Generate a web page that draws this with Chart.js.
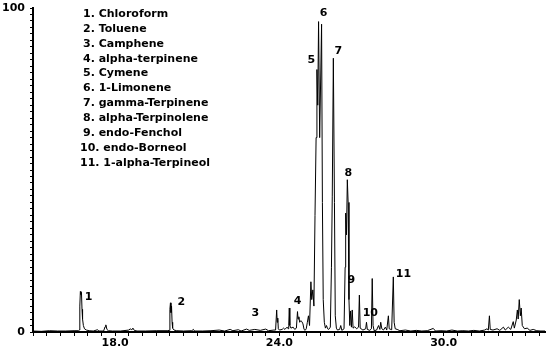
<!DOCTYPE html>
<html>
<head>
<meta charset="utf-8">
<script src="https://cdn.jsdelivr.net/npm/chart.js@4"></script>
<style>
  html, body { margin: 0; padding: 0; background: #fff; }
</style>
</head>
<body>
<canvas id="chart" width="547" height="354"></canvas>
<script>
// retention time (min) and relative abundance (%)
const times = [
  15.00, 15.30, 15.60, 15.90, 16.20, 16.50, 16.66, 16.69, 16.71, 16.73, 16.75, 16.77, 16.79, 16.81, 16.84, 16.88, 16.95,
  17.05, 17.20, 17.36, 17.40, 17.58, 17.63, 17.66, 17.70, 17.75, 17.90, 18.20, 18.50, 18.56, 18.60, 18.65, 18.70, 18.80,
  19.10, 19.50, 19.90, 19.97, 20.00, 20.02, 20.04, 20.06, 20.08, 20.10, 20.15, 20.25, 20.50, 20.80, 20.86, 20.90,
  21.20, 21.50, 21.80, 22.00, 22.20, 22.30, 22.50, 22.60, 22.80, 22.90, 23.10, 23.30, 23.50, 23.60, 23.80, 23.86,
  23.90, 23.92, 23.94, 23.96, 24.00, 24.10, 24.15, 24.20, 24.28, 24.32, 24.34, 24.36, 24.38, 24.42, 24.50, 24.56,
  24.62, 24.66, 24.68, 24.71, 24.74, 24.78, 24.82, 24.86, 24.90, 24.94, 24.98, 25.02, 25.06, 25.10, 25.15, 25.18,
  25.22, 25.26, 25.30, 25.34, 25.37, 25.40, 25.43, 25.47, 25.50, 25.54, 25.57, 25.60, 25.64, 25.68, 25.72, 25.76,
  25.80, 25.86, 25.90, 25.93, 25.97, 26.01, 26.04, 26.08, 26.12, 26.20, 26.24, 26.28, 26.36, 26.40, 26.42, 26.45,
  26.48, 26.51, 26.54, 26.57, 26.60, 26.63, 26.66, 26.69, 26.75, 26.82, 26.89, 26.92, 26.95, 27.05, 27.15, 27.18,
  27.21, 27.30, 27.36, 27.39, 27.42, 27.46, 27.55, 27.62, 27.67, 27.70, 27.74, 27.80, 27.87, 27.92, 27.98, 28.01,
  28.10, 28.16, 28.19, 28.23, 28.30, 28.40, 28.60, 28.80, 29.00, 29.20, 29.40, 29.62, 29.70, 29.90, 30.10, 30.30,
  30.50, 30.70, 30.90, 31.10, 31.30, 31.50, 31.58, 31.63, 31.67, 31.70, 31.80, 31.95, 32.05, 32.18, 32.25, 32.36,
  32.45, 32.54, 32.58, 32.65, 32.69, 32.72, 32.76, 32.80, 32.83, 32.87, 32.95, 33.05, 33.15, 33.27, 33.40, 33.55, 33.70
];
const abundance = [
  0.3, 0.2, 0.4, 0.3, 0.3, 0.4, 0.4, 0.6, 8.0, 12.5, 11.6, 12.2, 7.0, 4.0, 2.0, 1.0, 0.6,
  0.4, 0.3, 0.7, 0.3, 0.3, 1.6, 2.2, 0.8, 0.4, 0.3, 0.3, 0.6, 1.0, 0.6, 1.2, 0.5, 0.3,
  0.3, 0.4, 0.4, 0.5, 7.0, 9.0, 6.0, 8.0, 3.0, 1.2, 0.6, 0.4, 0.3, 0.4, 0.8, 0.3,
  0.3, 0.4, 0.6, 0.3, 0.8, 0.4, 0.7, 0.3, 0.9, 0.5, 0.8, 0.5, 0.9, 0.4, 0.6, 0.6,
  6.8, 3.0, 4.3, 1.0, 0.6, 0.8, 1.2, 0.8, 1.5, 1.0, 2.0, 7.4, 2.0, 1.2, 1.5, 0.8,
  1.2, 6.3, 4.0, 4.7, 3.0, 3.5, 3.2, 2.5, 0.8, 0.5, 1.0, 3.0, 5.0, 2.0, 15.5, 10.0,
  13.0, 8.0, 36.0, 60.0, 81.0, 70.0, 95.8, 60.0, 75.0, 95.0, 40.0, 10.0, 3.0, 1.2, 2.0, 1.0,
  0.8, 1.5, 20.0, 41.7, 84.5, 40.0, 5.0, 1.2, 0.6, 0.8, 2.0, 0.5, 1.0, 20.0, 36.7, 30.0,
  47.0, 40.0, 10.0, 2.0, 6.5, 1.5, 6.8, 1.2, 1.6, 1.0, 1.5, 11.4, 1.2, 0.6, 1.0, 3.0,
  0.8, 0.5, 1.0, 16.5, 2.0, 0.4, 0.6, 2.0, 0.8, 3.0, 1.0, 0.6, 1.5, 0.6, 5.0, 1.0,
  0.7, 17.0, 3.0, 1.0, 0.8, 0.4, 0.6, 0.3, 0.5, 0.3, 0.4, 1.1, 0.3, 0.4, 0.3, 0.6,
  0.3, 0.4, 0.3, 0.5, 0.3, 0.6, 1.0, 0.6, 5.0, 0.8, 0.6, 1.0, 0.5, 1.5, 0.6, 1.5,
  0.8, 3.2, 1.2, 3.7, 6.8, 4.0, 10.0, 5.0, 7.4, 2.0, 1.0, 1.2, 0.5, 0.8, 0.4, 0.3, 0.3
];

const compounds = [
  '1. Chloroform', '2. Toluene', '3. Camphene', '4. alpha-terpinene', '5. Cymene', '6. 1-Limonene',
  '7. gamma-Terpinene', '8. alpha-Terpinolene', '9. endo-Fenchol', '10. endo-Borneol', '11. 1-alpha-Terpineol'
];
// where the peak numbers sit (time, abundance)
const peakNumbers = ['1', '2', '3', '4', '5', '6', '7', '8', '9', '10', '11'];
const peakLabelTimes = [17.03, 20.42, 23.12, 24.66, 25.17, 25.61, 26.15, 26.52, 26.63, 27.32, 28.53];
const peakLabelHeights = [10.8, 9.3, 5.9, 9.6, 84.0, 98.5, 86.7, 49.0, 16.0, 5.9, 17.9];

const xTickLabels = [18, 24, 30];
const yTickLabels = [0, 100];

const FONT = 'DejaVu Sans';

const textPlugin = {
  id: 'chromText',
  afterDatasetsDraw(chart) {
    const { ctx, scales: { x, y } } = chart;
    ctx.save();
    ctx.fillStyle = '#000';
    ctx.font = 'bold 11px "' + FONT + '"';
    ctx.textBaseline = 'middle';

    // peak numbers
    ctx.textAlign = 'center';
    peakNumbers.forEach((n, i) => {
      ctx.fillText(n, x.getPixelForValue(peakLabelTimes[i]), y.getPixelForValue(peakLabelHeights[i]));
    });

    // compound list
    ctx.textAlign = 'left';
    compounds.forEach((c, i) => {
      const left = i >= 9 ? 80 : 83;
      ctx.fillText(c, left, 14 + i * 14.9);
    });
    ctx.restore();
  }
};

new Chart(document.getElementById('chart'), {
  type: 'line',
  data: {
    datasets: [{
      data: times.map((t, i) => ({ x: t, y: abundance[i] })),
      borderColor: '#000',
      borderWidth: 1,
      pointRadius: 0,
      tension: 0,
      fill: false
    }]
  },
  options: {
    responsive: false,
    animation: false,
    layout: { padding: { top: 8, right: 2, left: 0, bottom: 0 } },
    plugins: { legend: { display: false }, tooltip: { enabled: false } },
    scales: {
      x: {
        type: 'linear',
        min: 15,
        max: 33.7,
        afterFit(scale) { scale.height = 22; scale.paddingLeft = 0; scale.paddingRight = 0; },
        grid: { drawOnChartArea: false, tickLength: 4, color: '#000' },
        border: { color: '#000', width: 2 },
        ticks: {
          stepSize: 0.5,
          includeBounds: false,
          autoSkip: false,
          maxRotation: 0,
          padding: 1,
          color: '#000',
          font: { family: FONT, size: 11, weight: 'bold' },
          callback: v => xTickLabels.includes(v) ? v.toFixed(1) : ''
        }
      },
      y: {
        min: 0,
        max: 100,
        afterFit(scale) { scale.width = 33; scale.paddingTop = 0; scale.paddingBottom = 0; },
        grid: { drawOnChartArea: false, tickLength: 3, color: '#000' },
        border: { color: '#000', width: 2 },
        ticks: {
          stepSize: 2,
          autoSkip: false,
          padding: 5,
          color: '#000',
          font: { family: FONT, size: 11, weight: 'bold' },
          callback: v => yTickLabels.includes(v) ? String(v) : ''
        }
      }
    }
  },
  plugins: [textPlugin]
});
</script>
</body>
</html>
